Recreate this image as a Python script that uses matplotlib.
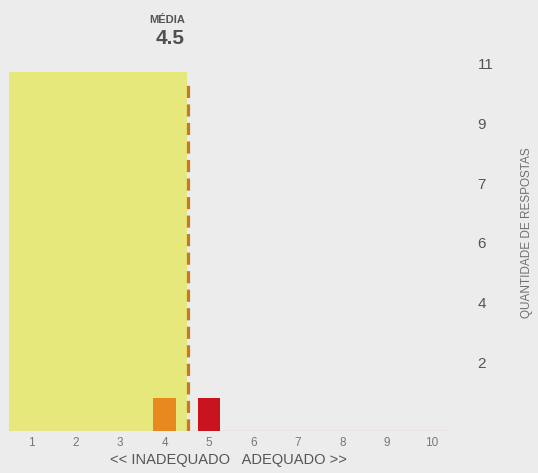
import numpy as np
import matplotlib
matplotlib.use('Agg')
import matplotlib.pyplot as plt
import matplotlib.transforms as mtransforms

plt.rcParams['font.family'] = ['Liberation Sans', 'DejaVu Sans']

scores = [1, 2, 3, 4, 5, 6, 7, 8, 9, 10]
counts = [0, 0, 0, 1, 1, 0, 0, 0, 0, 0]
bar_colors = ['#e8891f', '#e8891f', '#e8891f', '#e8891f', '#c8141e',
              '#c8141e', '#c8141e', '#c8141e', '#c8141e', '#c8141e']
mean_value = 4.5
y_max = 11
n_yticks = 6

bg = '#ececec'
fig = plt.figure(figsize=(5.38, 4.73), dpi=100, facecolor=bg)
ax = fig.add_axes([0.0167, 0.0888, 0.814, 0.759])
ax.set_facecolor(bg)

# yellow "inadequado" zone up to the mean
ax.axvspan(0.5, mean_value, color='#e6e87c', zorder=0, lw=0)

ax.bar(scores, counts, width=0.5, color=bar_colors, zorder=2)

ax.axhline(0, color='#f0c8c8', lw=1, zorder=1)
ax.axvline(mean_value + 0.02, ymin=0, ymax=0.975, color='#c47a22', lw=2.3,
           dashes=(3.8, 2.0), zorder=3)

ax.set_xlim(0.5, 10.35)
ax.set_ylim(0, y_max)

ticks = np.linspace(0, y_max, n_yticks + 1)[1:]
ax.yaxis.tick_right()
ax.set_yticks(ticks)
ax.set_yticklabels([str(int(v + 0.5)) for v in ticks], fontsize=11, color='#555555')
for lab in ax.get_yticklabels():
    lab.set_verticalalignment('bottom')
ax.tick_params(axis='y', length=0, pad=22)

ax.set_xticks(scores)
ax.set_xticklabels([str(s) for s in scores], fontsize=8.5, color='#777777')
ax.tick_params(axis='x', length=0, pad=4)
ax.set_xlabel('<< INADEQUADO   ADEQUADO >>', fontsize=10.5, color='#555555', labelpad=3)

for s in ax.spines.values():
    s.set_visible(False)

fig.text(0.979, 0.509, 'QUANTIDADE DE RESPOSTAS', rotation=90, ha='center', va='center',
         fontsize=8.5, color='#707070')

trans = mtransforms.blended_transform_factory(ax.transData, fig.transFigure)
ax.text(mean_value - 0.04, 0.958, 'MÉDIA', transform=trans, ha='right', va='center',
        fontsize=8, fontweight='bold', color='#555555')
ax.text(mean_value - 0.04, 0.918, '4.5', transform=trans, ha='right', va='center',
        fontsize=15, fontweight='bold', color='#505050')

fig.savefig('out.png', dpi=100, facecolor=bg)
